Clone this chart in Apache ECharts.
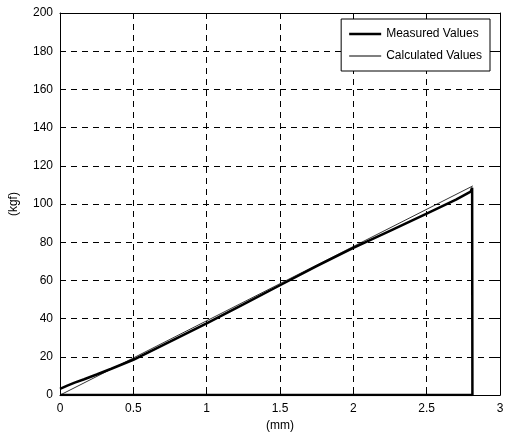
<!DOCTYPE html>
<html>
<head>
<meta charset="utf-8">
<script src="https://cdn.jsdelivr.net/npm/echarts@6/dist/echarts.min.js"></script>
<style>
html,body{margin:0;padding:0;background:#fff;}
#c{width:510px;height:437px;}
</style>
</head>
<body>
<div id="c"></div>
<script>
// Data
var measuredX = [0, 0.05, 0.1, 0.165, 0.25, 0.35, 0.5, 0.75, 1.0, 1.25, 1.5, 1.75, 2.0, 2.25, 2.5, 2.7, 2.8, 2.81, 2.812, 0];
var measuredY = [3.3, 5, 6.5, 8.3, 10.8, 13.8, 18.5, 28, 37.6, 47.5, 57.5, 67.5, 77, 86, 95, 102.3, 106.5, 108.5, 0, 0];
var calculatedX = [0, 2.815];
var calculatedY = [0, 109.5];
var seriesNames = ['Measured Values', 'Calculated Values'];
var xTicks = [0, 0.5, 1, 1.5, 2, 2.5, 3];
var yTicks = [0, 20, 40, 60, 80, 100, 120, 140, 160, 180, 200];

function pairs(xs, ys){ return xs.map(function(x,i){ return [x, ys[i]]; }); }

var FONT = 'Liberation Sans, Arial, sans-serif';
var chart = echarts.init(document.getElementById('c'), null, {renderer:'canvas'});
var gridLine = {show:true, lineStyle:{color:'#000', width:1, type:[6,5]}};
var tickIn = {show:true, inside:true, length:5, lineStyle:{color:'#000', width:1}};
var axisLine = {show:true, onZero:false, lineStyle:{color:'#000', width:1}};

chart.setOption({
  animation:false,
  backgroundColor:'#fff',
  textStyle:{fontFamily:FONT},
  grid:{left:59, right:10, top:13, bottom:41, containLabel:false},
  legend:{
    data:[
      {name:seriesNames[0], icon:'path://M0,0 M0,5.8L32,5.8L32,8.2L0,8.2Z M32,14'},
      {name:seriesNames[1], icon:'path://M0,0 M0,6.6L32,6.6L32,7.4L0,7.4Z M32,14'}
    ],
    orient:'vertical',
    right:20, top:19,
    padding:[8,8,8,8],
    itemGap:8,
    itemWidth:32,
    itemHeight:14,
    backgroundColor:'#fff',
    borderColor:'#000', borderWidth:1, borderRadius:0,
    itemStyle:{color:'#000', borderWidth:0},
    lineStyle:{width:0},
    textStyle:{fontFamily:FONT, fontSize:12, color:'#000'}
  },
  xAxis:[{
    type:'value', min:xTicks[0], max:xTicks[xTicks.length-1], interval:0.5,
    position:'bottom',
    axisLine:axisLine, axisTick:tickIn, splitLine:gridLine,
    axisLabel:{color:'#000', fontSize:12, fontFamily:FONT, margin:8,
      formatter:function(v){ return String(v); }},
    name:'(mm)', nameLocation:'middle', nameGap:23,
    nameTextStyle:{color:'#000', fontSize:12, fontFamily:FONT}
  },{
    type:'value', min:xTicks[0], max:xTicks[xTicks.length-1], interval:0.5,
    position:'top',
    axisLine:axisLine, axisTick:tickIn, splitLine:{show:false},
    axisLabel:{show:false}
  }],
  yAxis:[{
    type:'value', min:yTicks[0], max:yTicks[yTicks.length-1], interval:20,
    position:'left',
    axisLine:axisLine, axisTick:tickIn, splitLine:gridLine,
    axisLabel:{color:'#000', fontSize:12, fontFamily:FONT, margin:7},
    name:'(kgf)', nameLocation:'middle', nameGap:40,
    nameTextStyle:{color:'#000', fontSize:12, fontFamily:FONT}
  },{
    type:'value', min:yTicks[0], max:yTicks[yTicks.length-1], interval:20,
    position:'right',
    axisLine:axisLine, axisTick:tickIn, splitLine:{show:false},
    axisLabel:{show:false}
  }],
  series:[{
    name:seriesNames[0], type:'line', data:pairs(measuredX, measuredY),
    showSymbol:false, symbol:'none', smooth:false,
    lineStyle:{color:'#000', width:2.5}, itemStyle:{color:'#000'},
    z:3
  },{
    name:seriesNames[1], type:'line', data:pairs(calculatedX, calculatedY),
    showSymbol:false, symbol:'none',
    lineStyle:{color:'#000', width:0.8}, itemStyle:{color:'#000'},
    z:4
  }]
});
</script>
</body>
</html>
